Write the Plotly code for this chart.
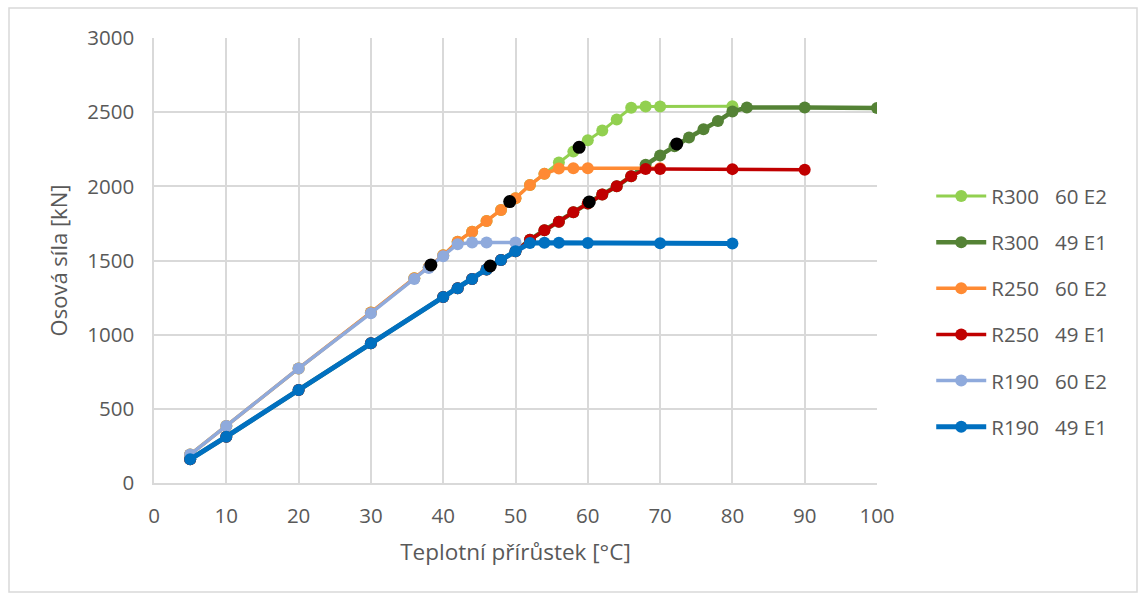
import plotly.graph_objects as go

# ---- data ----
x_r300_e2 = [5, 10, 20, 30, 36, 38, 40, 42, 44, 46, 48, 50, 52, 54, 56, 58, 60, 62, 64, 66, 68, 70, 80]
y_r300_e2 = [192, 385, 772, 1150, 1380, 1455, 1535, 1627, 1694, 1767, 1841, 1920, 2009, 2084, 2160, 2234, 2310, 2376, 2450, 2530, 2538, 2538, 2540]

x_r300_e1 = [5, 10, 20, 30, 40, 42, 44, 46, 48, 50, 52, 54, 56, 58, 60, 62, 64, 66, 68, 70, 72, 74, 76, 78, 80, 82, 90, 100]
y_r300_e1 = [160, 312, 627, 942, 1254, 1313, 1375, 1440, 1504, 1562, 1640, 1704, 1762, 1825, 1885, 1945, 2000, 2068, 2145, 2208, 2270, 2329, 2385, 2440, 2504, 2531, 2531, 2528]

x_r250_e2 = [5, 10, 20, 30, 36, 38, 40, 42, 44, 46, 48, 50, 52, 54, 56, 58, 60, 70]
y_r250_e2 = [192, 385, 772, 1150, 1380, 1455, 1535, 1627, 1694, 1767, 1841, 1920, 2009, 2084, 2120, 2122, 2122, 2122]

x_r250_e1 = [5, 10, 20, 30, 40, 42, 44, 46, 48, 50, 52, 54, 56, 58, 60, 62, 64, 66, 68, 70, 80, 90]
y_r250_e1 = [160, 312, 627, 942, 1254, 1313, 1375, 1440, 1504, 1562, 1640, 1704, 1762, 1825, 1885, 1945, 2000, 2068, 2117, 2117, 2116, 2112]

x_r190_e2 = [5, 10, 20, 30, 36, 38, 40, 42, 44, 46, 50]
y_r190_e2 = [192, 385, 772, 1145, 1375, 1450, 1528, 1610, 1622, 1622, 1622]

x_r190_e1 = [5, 10, 20, 30, 40, 42, 44, 46, 48, 50, 52, 54, 56, 60, 70, 80]
y_r190_e1 = [160, 312, 627, 942, 1254, 1313, 1375, 1440, 1504, 1562, 1618, 1620, 1620, 1618, 1616, 1614]

x_marks = [38.3, 46.5, 49.2, 58.8, 60.2, 72.3]
y_marks = [1470, 1463, 1897, 2263, 1895, 2286]

names = ["R300\u00a0\u00a0\u00a060 E2", "R300\u00a0\u00a0\u00a049 E1", "R250\u00a0\u00a0\u00a060 E2",
         "R250\u00a0\u00a0\u00a049 E1", "R190\u00a0\u00a0\u00a060 E2", "R190\u00a0\u00a0\u00a049 E1"]
colors = ["#92D050", "#548235", "#FF8A33", "#C00000", "#8FAADC", "#0070C0"]
widths = [3, 4.5, 3.5, 3.5, 3.5, 5]
xs = [x_r300_e2, x_r300_e1, x_r250_e2, x_r250_e1, x_r190_e2, x_r190_e1]
ys = [y_r300_e2, y_r300_e1, y_r250_e2, y_r250_e1, y_r190_e2, y_r190_e1]

x_ticks = list(range(0, 101, 10))
y_ticks = list(range(0, 3001, 500))

fig = go.Figure()
for i in range(6):
    fig.add_trace(go.Scatter(
        x=xs[i], y=ys[i], name=names[i], mode="lines+markers",
        line=dict(color=colors[i], width=widths[i]),
        marker=dict(color=colors[i], size=12),
        legendgroup=f"g{i}",
    ))
fig.add_trace(go.Scatter(x=x_marks, y=y_marks, mode="markers", showlegend=False,
                         marker=dict(color="black", size=13)))

W, H = 1138, 598
L, R, T, B = 154, 261, 38, 115
pw, ph = W - L - R, H - T - B

def px2paper(px, py):
    return (px - L) / pw, (H - B - py) / ph

x0, y0 = px2paper(9, 8)
x1, y1 = px2paper(1137, 592)

txt = "#595959"
grid = "#D9D9D9"
fig.update_layout(
    width=W, height=H,
    margin=dict(l=L, r=R, t=T, b=B),
    paper_bgcolor="white", plot_bgcolor="white",
    font=dict(family="Open Sans, sans-serif", size=20.5, color=txt),
    xaxis=dict(range=[0, 100], tickvals=x_ticks, showgrid=True, gridcolor=grid, gridwidth=1.5,
               showline=True, linecolor=grid, linewidth=1.5, zeroline=False, ticks="",
               ticklabelstandoff=14, tickfont=dict(size=20.5),
               title=dict(text="Teplotní přírůstek [°C]", font=dict(size=22.5, color=txt), standoff=16)),
    yaxis=dict(range=[0, 3000], tickvals=y_ticks, showgrid=True, gridcolor=grid, gridwidth=1.5,
               showline=True, linecolor=grid, linewidth=1.5, zeroline=False, ticks="",
               ticklabelstandoff=14, tickfont=dict(size=20.5),
               title=dict(text="Osová síla [kN]", font=dict(size=22, color=txt), standoff=14)),
    legend=dict(x=1.075, y=0.385, xanchor="left", yanchor="middle", traceorder="grouped",
                tracegroupgap=16.5, font=dict(size=20.5, color=txt), itemwidth=50,
                bgcolor="rgba(0,0,0,0)"),
    shapes=[dict(type="rect", xref="paper", yref="paper", x0=x0, y0=y0, x1=x1, y1=y1,
                 line=dict(color="#D9D9D9", width=1.5), fillcolor="rgba(0,0,0,0)", layer="below")],
)

fig.write_html("out.html")
